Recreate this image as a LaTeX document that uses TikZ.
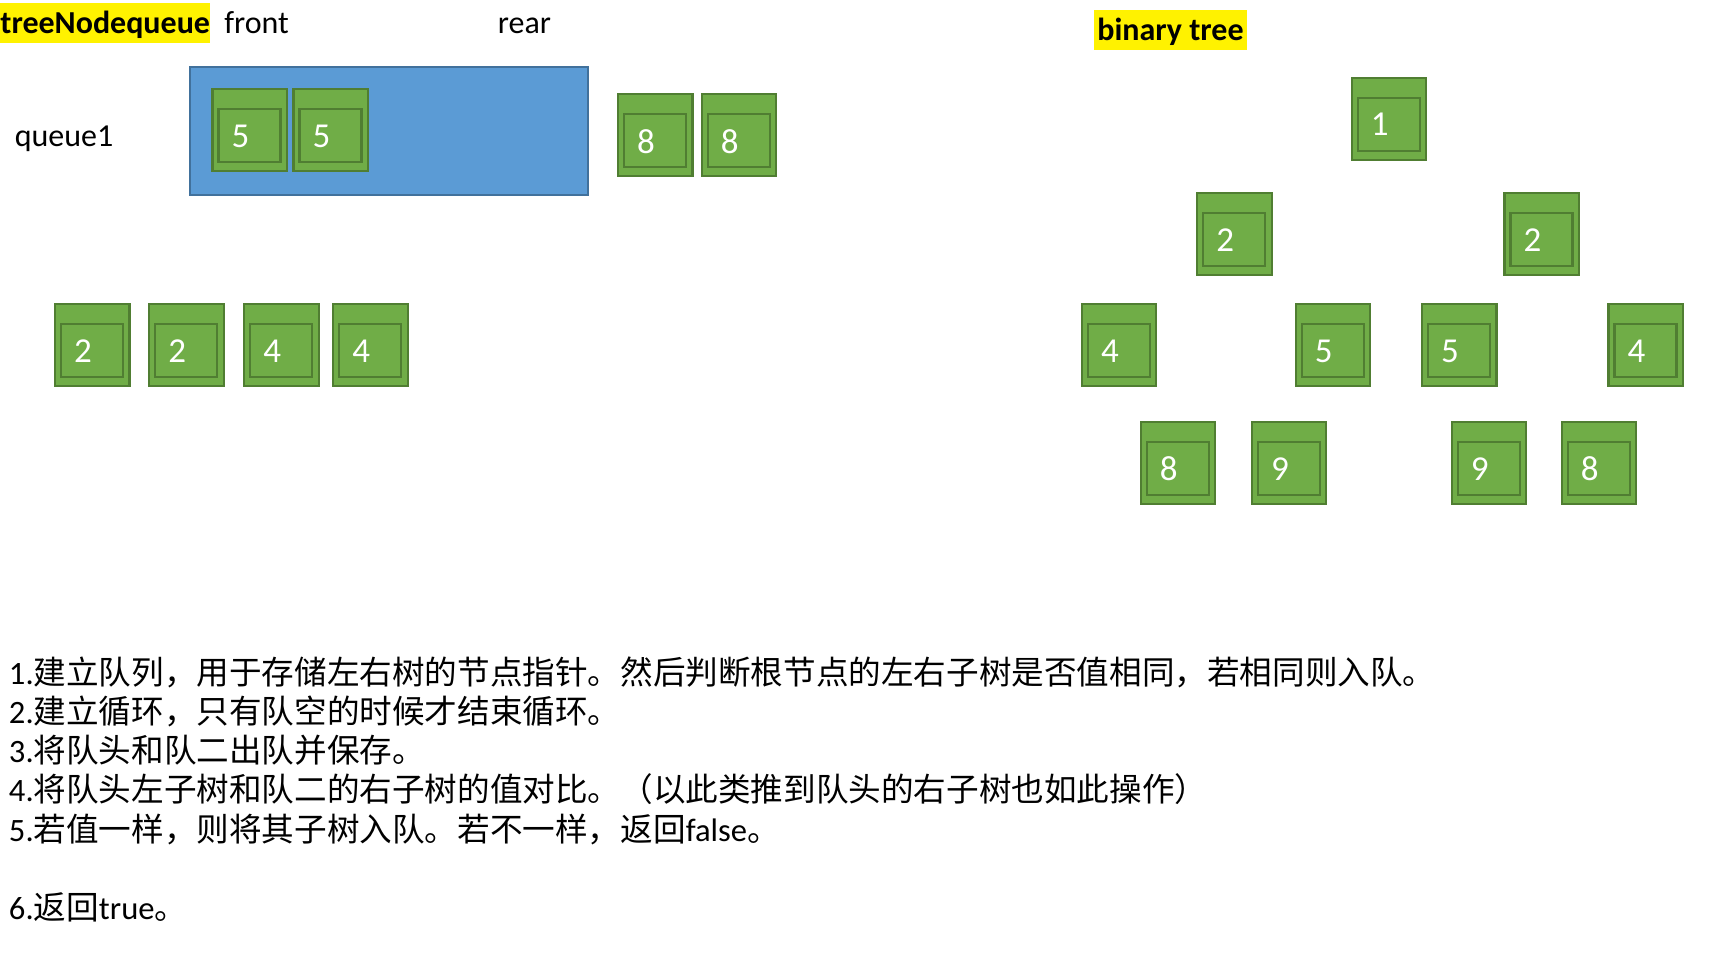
\documentclass[tikz,border=0pt]{standalone}
\usepackage{fontspec}
\setmainfont{Carlito}
\newfontfamily\cjk{Noto Sans CJK SC}
\definecolor{gfill}{HTML}{70AD47}
\definecolor{gdraw}{HTML}{507E32}
\definecolor{bfill}{HTML}{5B9BD5}
\definecolor{bdraw}{HTML}{41719C}
\newcommand\greenbox[4]{%
  \node[outerbox] (#1) at (#2,#3) {};
  \node[innerbox] (#1i) at ([xshift=3pt,yshift=-10pt]#1.north west) {};
  \node[digit] (#1t) at ([xshift=14pt,yshift=-23.5pt]#1.north west) {#4};
}
\begin{document}
\begin{tikzpicture}[x=0.5pt,y=-0.5pt,
  outerbox/.style={draw=gdraw, fill=gfill, line width=1.1pt, minimum width=37.2pt, minimum height=41pt, inner sep=0pt, outer sep=0pt, anchor=north west},
  innerbox/.style={draw=gdraw, line width=1.1pt, minimum width=31pt, minimum height=26.5pt, inner sep=0pt, outer sep=0pt, anchor=north west},
  digit/.style={text=white, font=\fontsize{17.5}{20}\selectfont, inner sep=0pt},
  label/.style={font=\fontsize{16}{19}\selectfont, inner sep=0pt, anchor=base west},
  hl/.style={fill=yellow, font=\bfseries\fontsize{16}{19}\selectfont, inner ysep=0pt, anchor=base west},
  txt/.style={font=\fontsize{16.3}{20}\selectfont, inner sep=0pt, anchor=base west}
]
\useasboundingbox (0,0) rectangle (1722,961);

% headings
\node[hl, inner xsep=0pt, text height=15pt, text depth=4.7pt] (tnq) at (0,33.3) {treeNodequeue};
\node[label] (front) at (224,33.3) {front};
\node[label] (rear) at (497.5,33.3) {rear};
\node[label] (q1lab) at (14.5,146.7) {queue1};
\node[hl, inner xsep=1.5pt, text height=15.5pt, text depth=4.5pt] (bt) at (1094,41) {binary tree};

% queue
\node[draw=bdraw, fill=bfill, line width=1pt, minimum width=198.75pt, minimum height=63.95pt, inner sep=0pt, outer sep=0pt, anchor=north west] (queue) at (190,66.7) {};
\greenbox{qa}{212.4}{89.3}{5}
\greenbox{qb}{293.5}{89.3}{5}
\greenbox{qc}{618}{94.3}{8}
\greenbox{qd}{701.7}{94.3}{8}

% row of dequeued nodes
\greenbox{ra}{55}{304.3}{2}
\greenbox{rb}{149.3}{304.3}{2}
\greenbox{rc}{244.3}{304.3}{4}
\greenbox{rd}{333.3}{304.3}{4}

% binary tree
\greenbox{t1}{1351.7}{77.7}{1}
\greenbox{t2}{1197.3}{192.7}{2}
\greenbox{t3}{1504.5}{192.7}{2}
\greenbox{t4}{1081.9}{304.3}{4}
\greenbox{t5}{1295.7}{304.3}{5}
\greenbox{t6}{1422}{304.3}{5}
\greenbox{t7}{1608.4}{304.3}{4}
\greenbox{t8}{1140.8}{421.7}{8}
\greenbox{t9}{1251.9}{421.7}{9}
\greenbox{t10}{1451.8}{421.7}{9}
\greenbox{t11}{1561.7}{421.7}{8}

% steps
\node[txt] (l1) at (8.6,684) {1.{\cjk 建立队列，用于存储左右树的节点指针。然后判断根节点的左右子树是否值相同，若相同则入队。}};
\node[txt] (l2) at (8.6,723.3) {2.{\cjk 建立循环，只有队空的时候才结束循环。}};
\node[txt] (l3) at (8.6,762.6) {3.{\cjk 将队头和队二出队并保存。}};
\node[txt] (l4) at (8.6,801.9) {4.{\cjk 将队头左子树和队二的右子树的值对比。（以此类推到队头的右子树也如此操作）}};
\node[txt] (l5) at (8.6,841.2) {5.{\cjk 若值一样，则将其子树入队。若不一样，返回}false{\cjk 。}};
\node[txt] (l6) at (8.6,919.8) {6.{\cjk 返回}true{\cjk 。}};
\end{tikzpicture}
\end{document}
